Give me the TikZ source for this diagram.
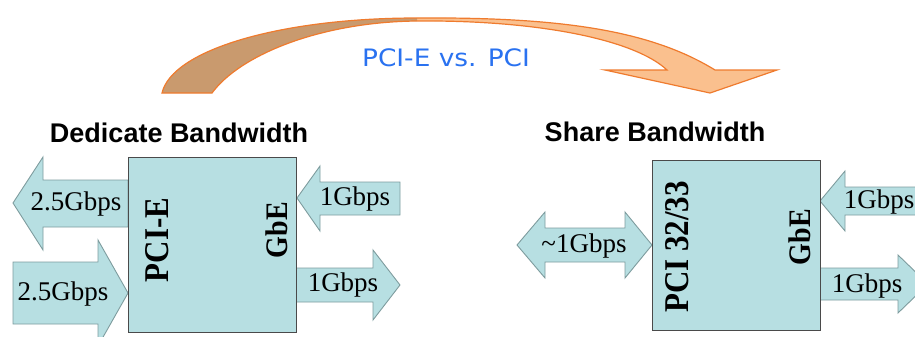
\documentclass[tikz,border=0pt]{standalone}
\usepackage{fontspec}
\setmainfont{Liberation Serif}
\newfontfamily\headfont{Liberation Sans}
\newfontfamily\titlefont{DejaVu Sans}
\definecolor{boxfill}{HTML}{B7DFE2}
\definecolor{boxline}{HTML}{4A4A4A}
\definecolor{arrline}{HTML}{7E9C9E}
\definecolor{arcdark}{HTML}{C99A6E}
\definecolor{arclight}{HTML}{FAC08E}
\definecolor{arcline}{HTML}{EF7B2E}
\definecolor{titleblue}{HTML}{2A72F0}
\tikzset{
  chip/.style={draw=boxline, line width=1.3pt, fill=boxfill},
  blockarrow/.style={draw=arrline, line width=0.9pt, fill=boxfill, line join=miter},
  rate/.style={inner sep=0pt, font=\fontsize{27}{27}\selectfont},
  chiplabel/.style={inner sep=0pt, rotate=90, font=\fontsize{31}{31}\selectfont\bfseries},
  gbelabel/.style={inner sep=0pt, rotate=90, font=\fontsize{28}{28}\selectfont\bfseries},
  heading/.style={inner sep=0pt, font=\headfont\fontsize{27}{27}\selectfont\bfseries},
}
\begin{document}
\begin{tikzpicture}[x=1pt, y=-1pt]
\useasboundingbox (0,0) rectangle (915,337);
\clip (0,0) rectangle (915,337);

% curved arrow
\fill[arclight] (417,18) .. controls (560,17) and (650,30) .. (715,70)
  -- (777,70) -- (710,93) -- (605,70) -- (667,70)
  .. controls (635,40) and (540,20) .. (417,21) -- cycle;
\fill[arcdark] (162,93) .. controls (172,50) and (280,18) .. (417,18)
  -- (417,21) .. controls (320,22) and (240,55) .. (212,93) -- cycle;
\draw[arcline, line width=1.2pt, line join=miter]
  (162,93) .. controls (172,50) and (280,18) .. (417,18)
  .. controls (560,17) and (650,30) .. (715,70)
  -- (777,70) -- (710,93) -- (605,70) -- (667,70)
  .. controls (635,40) and (540,20) .. (417,21)
  .. controls (320,22) and (240,55) .. (212,93) -- cycle;
\node[inner sep=0pt, text=titleblue, font=\titlefont\fontsize{24}{24}\selectfont] (title) at (446,58) {\scalebox{1.1}[1]{PCI-E vs. PCI}};

% headings
\node[heading] (hdA) at (179,133) {Dedicate Bandwidth};
\node[heading] (hdB) at (655,132) {Share Bandwidth};

% left group arrows
\draw[blockarrow] (128,180) -- (43,180) -- (43,157) -- (13,203) -- (43,250) -- (43,227) -- (128,227) -- cycle;
\draw[blockarrow] (13,262) -- (98,262) -- (98,240) -- (128,293) -- (98,346) -- (98,324) -- (13,324) -- cycle;
\draw[blockarrow] (400,182) -- (320,182) -- (320,166) -- (297,198) -- (320,231) -- (320,215) -- (400,215) -- cycle;
\draw[blockarrow] (296,268) -- (373,268) -- (373,250) -- (400,285) -- (373,320) -- (373,302) -- (296,302) -- cycle;

\node[chip, minimum width=168pt, minimum height=175pt, anchor=north west] (pcie) at (128,157) {};

\node[rate] (r1) at (76,204) {2.5Gbps};
\node[rate] (r2) at (63,294) {2.5Gbps};
\node[rate] (r3) at (355,199) {1Gbps};
\node[rate] (r4) at (343,285) {1Gbps};
\node[chiplabel] (lpcie) at (157,240) {\scalebox{1}[1.12]{PCI-E}};
\node[gbelabel] (lgbe) at (277,230) {\scalebox{1}[1.12]{GbE}};

% right group arrows
\draw[blockarrow] (517,245) -- (545,212) -- (545,228) -- (625,228) -- (625,212) -- (652,245) -- (625,278) -- (625,262) -- (545,262) -- (545,278) -- cycle;
\draw[blockarrow] (930,187) -- (845,187) -- (845,171) -- (820,201) -- (845,231) -- (845,215) -- (930,215) -- cycle;
\draw[blockarrow] (820,268) -- (898,268) -- (898,255) -- (928,284) -- (898,313) -- (898,300) -- (820,300) -- cycle;

\node[chip, minimum width=168pt, minimum height=170pt, anchor=north west] (pci) at (652,160) {};

\node[rate] (r5) at (584,246) {\textasciitilde1Gbps};
\node[rate] (r6) at (879,202) {1Gbps};
\node[rate] (r7) at (867,286) {1Gbps};
\node[chiplabel] (lpci) at (677,247) {\scalebox{1}[1.12]{PCI 32/33}};
\node[gbelabel] (rgbe) at (800,237) {\scalebox{1}[1.12]{GbE}};
\end{tikzpicture}
\end{document}
